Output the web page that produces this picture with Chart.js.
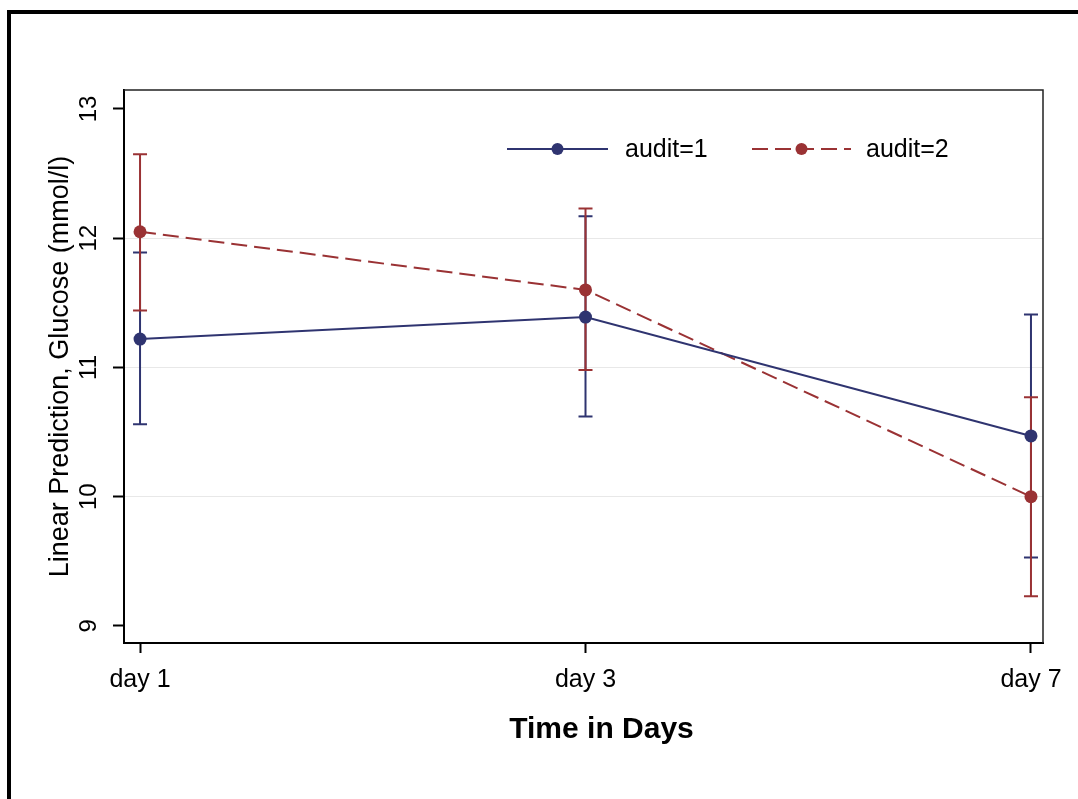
<!DOCTYPE html>
<html>
<head>
<meta charset="utf-8">
<script src="https://cdn.jsdelivr.net/npm/chart.js@4"></script>
<style>
  html, body { margin: 0; padding: 0; background: #fff; }
  #wrap { position: relative; width: 1078px; height: 799px; overflow: hidden; }
  #frame { position: absolute; left: 7px; top: 10px; width: 1100px; height: 820px;
           border-left: 4px solid #000; border-top: 4px solid #000; pointer-events: none; }
</style>
</head>
<body>
<div id="wrap">
  <canvas id="chart" width="1078" height="799"></canvas>
  <div id="frame"></div>
</div>
<script>
// ============ Data ============
const days = ['day 1', 'day 3', 'day 7'];
const audit1 = [11.22, 11.39, 10.47];
const audit1Lo = [10.56, 10.62, 9.53];
const audit1Hi = [11.89, 12.17, 11.41];
const audit2 = [12.05, 11.60, 10.00];
const audit2Lo = [11.44, 10.98, 9.23];
const audit2Hi = [12.65, 12.23, 10.77];
const yTicks = [9, 10, 11, 12, 13];
const seriesNames = ['audit=1', 'audit=2'];

const NAVY = '#2f3470';
const MAROON = '#9a3234';
const FONT = '"Liberation Sans", Arial, sans-serif';

const toPoints = arr => arr.map((v, i) => ({ x: i, y: v }));
const ciSets = [
    { lo: audit1Lo, hi: audit1Hi, color: NAVY },
    { lo: audit2Lo, hi: audit2Hi, color: MAROON }
];

// ============ Plugins ============
const errorBars = {
    id: 'errorBars',
    beforeDatasetsDraw(chart) {
        const { ctx, scales: { x, y } } = chart;
        ctx.save();
        ctx.lineWidth = 2;
        ciSets.forEach(set => {
            ctx.strokeStyle = set.color;
            set.lo.forEach((lo, i) => {
                const px = x.getPixelForValue(i);
                const yl = y.getPixelForValue(lo);
                const yh = y.getPixelForValue(set.hi[i]);
                ctx.beginPath();
                ctx.moveTo(px, yl); ctx.lineTo(px, yh);
                ctx.moveTo(px - 7, yl); ctx.lineTo(px + 7, yl);
                ctx.moveTo(px - 7, yh); ctx.lineTo(px + 7, yh);
                ctx.stroke();
            });
        });
        ctx.restore();
    }
};

const decor = {
    id: 'decor',
    afterDraw(chart) {
        const { ctx, chartArea: a, scales: { y } } = chart;
        ctx.save();
        // plot box top/right
        ctx.strokeStyle = '#222';
        ctx.lineWidth = 1.5;
        ctx.beginPath();
        ctx.moveTo(a.left, a.top); ctx.lineTo(a.right, a.top); ctx.lineTo(a.right, a.bottom);
        ctx.stroke();

        // rotated y tick labels
        ctx.fillStyle = '#000';
        ctx.font = '24px ' + FONT;
        ctx.textAlign = 'center';
        ctx.textBaseline = 'middle';
        yTicks.forEach(v => {
            ctx.save();
            ctx.translate(a.left - 35, y.getPixelForValue(v));
            ctx.rotate(-Math.PI / 2);
            ctx.fillText(String(v), 0, 0);
            ctx.restore();
        });

        // x axis title
        ctx.font = 'bold 30px ' + FONT;
        ctx.fillText('Time in Days', (a.left + a.right) / 2 + 18, 730);

        // legend
        const items = [{ x0: 507, x1: 608, tx: 625 }, { x0: 752, x1: 851, tx: 866 }];
        const ly = 149;
        chart.data.datasets.forEach((ds, i) => {
            const it = items[i];
            ctx.strokeStyle = ds.borderColor;
            ctx.lineWidth = 2;
            ctx.setLineDash(ds.borderDash || []);
            ctx.beginPath();
            ctx.moveTo(it.x0, ly); ctx.lineTo(it.x1, ly);
            ctx.stroke();
            ctx.setLineDash([]);
            ctx.fillStyle = ds.borderColor;
            ctx.beginPath();
            ctx.arc((it.x0 + it.x1) / 2, ly, 6, 0, Math.PI * 2);
            ctx.fill();
            ctx.fillStyle = '#000';
            ctx.font = '25px ' + FONT;
            ctx.textAlign = 'left';
            ctx.fillText(ds.label, it.tx, ly + 1);
        });
        ctx.restore();
    }
};

// ============ Chart ============
new Chart(document.getElementById('chart'), {
    type: 'line',
    data: {
        datasets: [
            {
                label: seriesNames[0], data: toPoints(audit1),
                borderColor: NAVY, backgroundColor: NAVY, borderWidth: 2,
                pointRadius: 6.5, pointBorderWidth: 0, pointBackgroundColor: NAVY
            },
            {
                label: seriesNames[1], data: toPoints(audit2),
                borderColor: MAROON, backgroundColor: MAROON, borderWidth: 2, borderDash: [16, 7],
                pointRadius: 6.5, pointBorderWidth: 0, pointBackgroundColor: MAROON
            }
        ]
    },
    options: {
        responsive: false,
        animation: false,
        devicePixelRatio: 1,
        layout: { padding: { left: 40, top: 90, right: 35, bottom: 40 } },
        plugins: { legend: { display: false }, tooltip: { enabled: false } },
        scales: {
            x: {
                type: 'linear', min: -0.036, max: 2.027,
                afterBuildTicks(s) { s.ticks = days.map((d, i) => ({ value: i })); },
                afterFit(s) { s.height = 116; },
                ticks: {
                    color: '#000', padding: 12,
                    font: { family: FONT, size: 25 },
                    callback: v => days[v]
                },
                grid: { drawOnChartArea: false, drawTicks: true, tickLength: 10, tickColor: '#000', tickWidth: 2 },
                border: { color: '#000', width: 2 }
            },
            y: {
                min: 8.868, max: 13.147,
                afterBuildTicks(s) { s.ticks = yTicks.map(v => ({ value: v })); },
                afterFit(s) { s.width = 84; },
                ticks: { display: false },
                grid: {
                    color: c => (c.tick && (c.tick.value === 9 || c.tick.value === 13)) ? 'rgba(0,0,0,0)' : '#e8e8e8',
                    lineWidth: 1, tickLength: 11, tickColor: '#000', tickWidth: 2
                },
                border: { color: '#000', width: 2 },
                title: {
                    display: true, text: 'Linear Prediction, Glucose (mmol/l)', color: '#000',
                    font: { family: FONT, size: 27 }, padding: { top: 4, bottom: 0 }
                }
            }
        }
    },
    plugins: [errorBars, decor]
});
</script>
</body>
</html>
